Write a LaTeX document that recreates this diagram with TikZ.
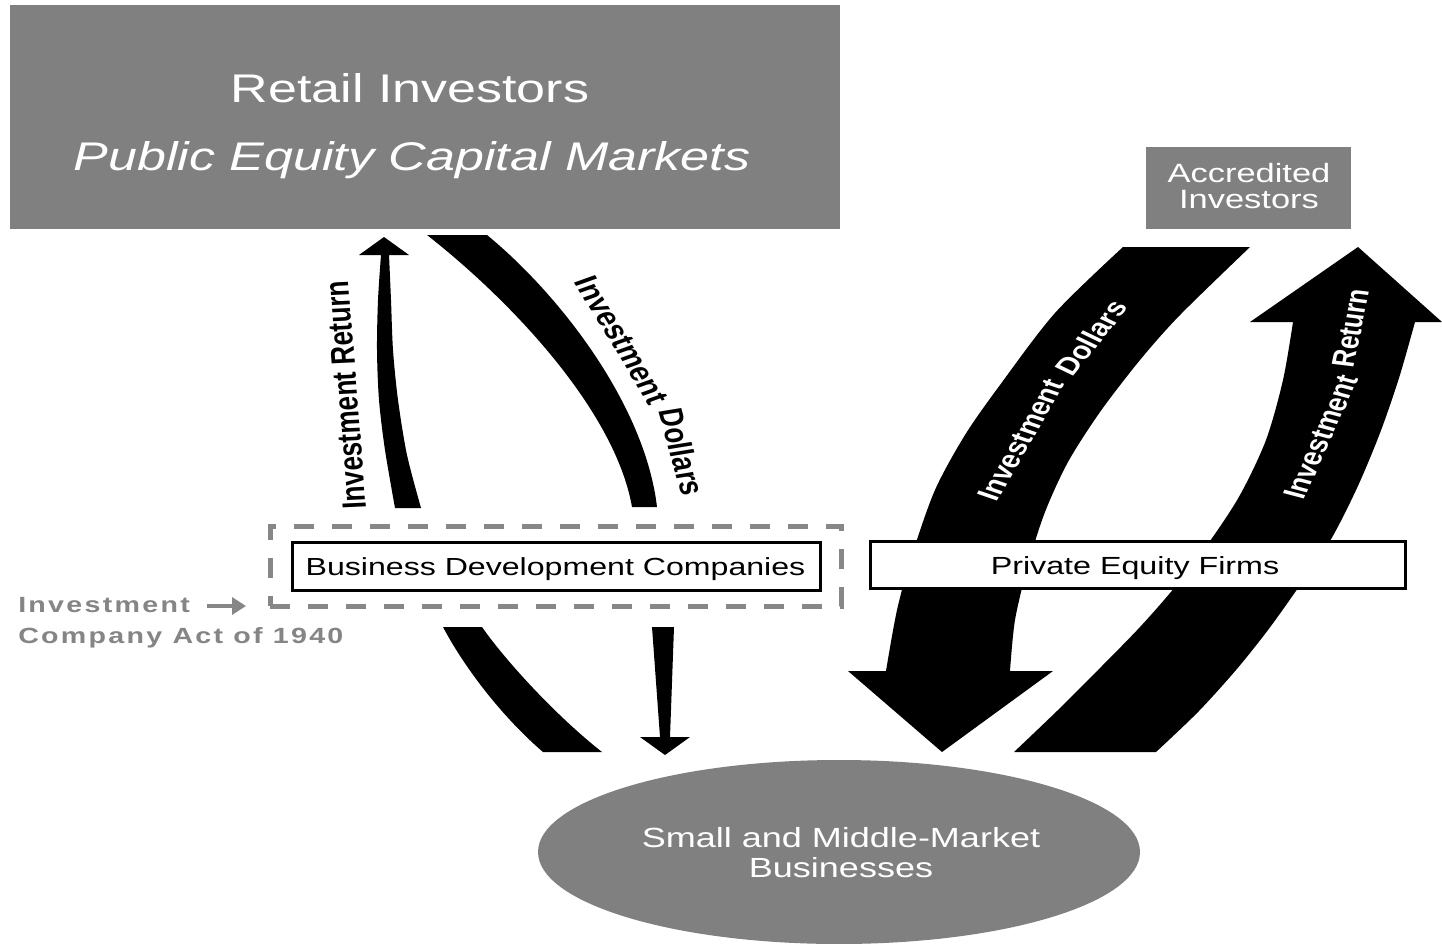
\documentclass[tikz,border=0pt]{standalone}
\usepackage{fontspec}
\setmainfont{Liberation Sans}
\usetikzlibrary{arrows.meta,shapes.geometric}
\definecolor{boxgray}{HTML}{808080}
\definecolor{dashgray}{HTML}{878787}
\definecolor{txtgray}{HTML}{858585}
\begin{document}
\begin{tikzpicture}[x=1pt,y=-1pt,
  stretch/.style={xscale=1.3, inner sep=0pt},
  graybox/.style={draw=none, fill=boxgray, rectangle, inner sep=0pt},
  whitebox/.style={draw=black, line width=3pt, fill=white, rectangle, inner sep=0pt},
  dashbox/.style={draw=dashgray, line width=5pt, dash pattern=on 20pt off 18pt, rectangle, inner sep=0pt},
  band/.style={fill=black},
  blbl/.style={stretch, font=\bfseries\fontsize{26}{26}\selectfont},
  wlbl/.style={stretch, font=\bfseries\fontsize{24.5}{24}\selectfont, text=white},
  gtxt/.style={stretch, text=txtgray, font=\bfseries\fontsize{22}{22}\selectfont\addfontfeatures{LetterSpace=8}},
]
\useasboundingbox (0,0) rectangle (1442,944);
\fill[white] (0,0) rectangle (1442,944);

% ---------- bands (right side) ----------
\fill[band] (1123,247) -- (1250,247)
  -- plot[smooth] coordinates {(1250,247) (1180,315) (1140,360) (1100,412) (1068,462) (1045,512) (1028,565) (1015,620) (1010,671)}
  -- (1053,671) -- (942,752) -- (848,671) -- (886,671)
  -- plot[smooth] coordinates {(886,671) (897,610) (912,555) (935,490) (965,435) (1000,385) (1055,313) (1123,247)}
  -- cycle;
\fill[band] (1014,752)
  -- plot[smooth] coordinates {(1014,752) (1058,710) (1100,668) (1140,627) (1175,587) (1210,541) (1240,495) (1266,440) (1283,380) (1293,322)}
  -- (1250,322) -- (1358,247) -- (1442,322) -- (1415,322)
  -- plot[smooth] coordinates {(1415,322) (1399,378) (1380,433) (1357,488) (1330,541) (1298,588) (1268,630) (1236,670) (1198,712) (1156,752)}
  -- cycle;

% ---------- bands (BDC side) ----------
\fill[band] (395,508)
  -- plot[smooth] coordinates {(395,508) (385,450) (379,400) (377,350) (378,300) (381,255)}
  -- (359,255) -- (384,237) -- (409,255) -- (389,255)
  -- plot[smooth] coordinates {(389,255) (391,300) (393,350) (398,400) (407,455) (421,508)}
  -- cycle;
\fill[band] (427,235) -- (487,235)
  .. controls (560,295) and (645,405) .. (657,507)
  -- (632,507)
  .. controls (615,410) and (510,300) .. (427,235)
  -- cycle;
\fill[band] (443,627) -- (482,627)
  .. controls (505,660) and (555,715) .. (602,752)
  -- (543,752)
  .. controls (500,715) and (463,665) .. (443,627)
  -- cycle;
\fill[band] (652,627) -- (674,627) -- (670,737) -- (690,737) -- (665,755) -- (640,737) -- (660,737) -- cycle;

% ---------- boxes ----------
\node[graybox, minimum width=830pt, minimum height=224pt] (retail) at (425,117) {};
\node[graybox, minimum width=205pt, minimum height=82pt] (accr) at (1248.5,188) {};
\node[ellipse, fill=boxgray, draw=none, inner sep=0pt, minimum width=602pt, minimum height=184pt] (smb) at (839,852) {};
\node[dashbox, minimum width=571pt, minimum height=80pt] (act) at (555.5,566) {};
\node[whitebox, minimum width=528pt, minimum height=48pt] (bdc) at (556,566) {};
\node[whitebox, minimum width=535pt, minimum height=47pt] (pe) at (1137.5,564.5) {};

% ---------- box texts ----------
\node[stretch, anchor=base, text=white, font=\fontsize{40}{48}\selectfont] (retailA) at (410,103) {Retail Investors};
\node[stretch, anchor=base, text=white, font=\itshape\fontsize{40}{48}\selectfont] (retailB) at (412,171) {Public Equity Capital Markets};
\node[stretch, text=white, align=center, font=\fontsize{26.5}{26}\selectfont] (accrT) at (1249,186) {Accredited\\Investors};
\node[stretch, text=white, align=center, font=\fontsize{27.7}{30}\selectfont] (smbT) at (841,853) {Small and Middle-Market\\Businesses};
\node[stretch, anchor=base, font=\fontsize{24.7}{26}\selectfont] (bdcT) at (555.5,575) {Business Development Companies};
\node[stretch, anchor=base, font=\fontsize{24.8}{26}\selectfont] (peT) at (1135,574) {Private Equity Firms};

% ---------- act label ----------
\node[gtxt, anchor=base west] (actA) at (18,612) {Investment};
\node[gtxt, anchor=base west] (actB) at (18,643) {Company Act of 1940};
\coordinate (gaS) at (207,606);
\coordinate (gaE) at (246,606);
\draw[dashgray, line width=4.5pt, -{Triangle[length=14pt,width=17pt]}] (gaS) -- (gaE);

% ---------- arrow labels ----------
\node[blbl, rotate=93.5] (bdcRet) at (346,395) {Investment Return};
\node[blbl, rotate=-65] (bdcDolA) at (622,340) {Investment};
\node[blbl, rotate=-78] (bdcDolB) at (682,452) {Dollars};
\node[wlbl, rotate=66] (peDolA) at (1021,440) {Investment};
\node[wlbl, rotate=58] (peDolB) at (1091,338) {Dollars};
\node[wlbl, rotate=71] (peRetA) at (1321,437) {Investment};
\node[wlbl, rotate=81] (peRetB) at (1351,328) {Return};
\end{tikzpicture}
\end{document}
